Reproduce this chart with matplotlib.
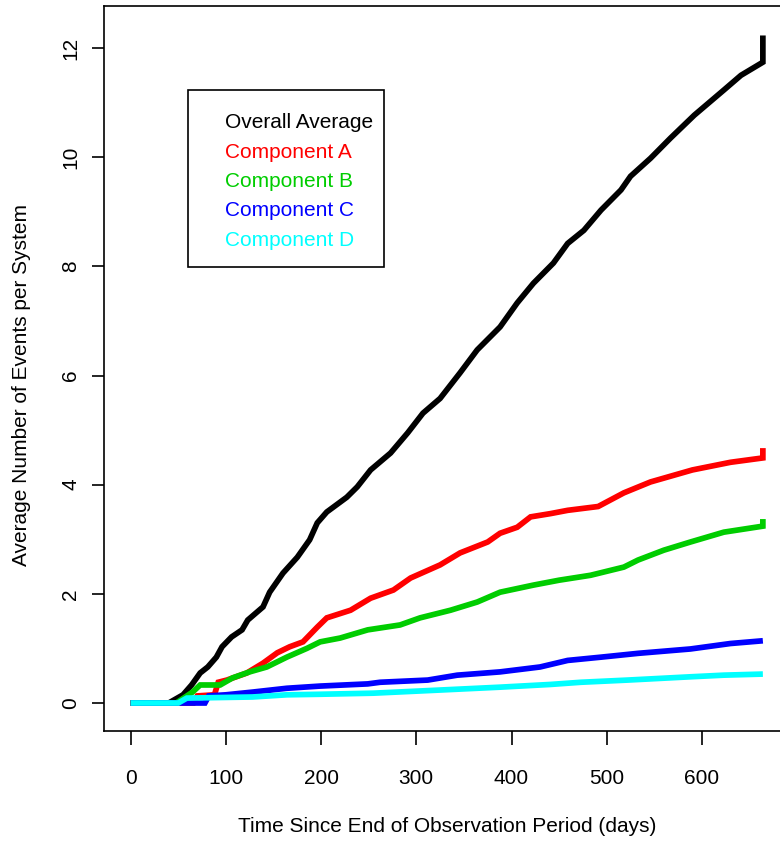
import matplotlib.pyplot as plt
from matplotlib.patches import Rectangle

plt.rcParams['font.family'] = ['Liberation Sans', 'DejaVu Sans']

# values (days, average events per system)
days_overall = [0, 40, 55, 64, 73, 81, 90, 96, 106, 117, 123, 139, 146, 160, 175, 188, 196,
                206, 227, 238, 252, 273, 291, 307, 325, 346, 364, 388, 406, 423, 444, 459,
                476, 494, 515, 525, 546, 567, 592, 623, 641, 664, 664]
overall = [0, 0, 0.15, 0.33, 0.55, 0.66, 0.84, 1.03, 1.21, 1.34, 1.52, 1.76, 2.03, 2.38, 2.67,
           2.99, 3.30, 3.50, 3.77, 3.96, 4.27, 4.58, 4.95, 5.31, 5.58, 6.05, 6.47, 6.89, 7.33,
           7.69, 8.06, 8.42, 8.66, 9.03, 9.40, 9.65, 9.98, 10.35, 10.77, 11.23, 11.50, 11.74, 12.23]

days_a = [0, 66, 70, 88, 92, 101, 122, 139, 154, 167, 181, 196, 206, 231, 252, 276, 294, 325,
          346, 375, 388, 406, 420, 441, 459, 491, 518, 546, 590, 630, 664, 664]
comp_a = [0, 0, 0.13, 0.15, 0.38, 0.42, 0.55, 0.73, 0.92, 1.03, 1.12, 1.39, 1.56, 1.70, 1.92,
          2.07, 2.29, 2.53, 2.75, 2.95, 3.11, 3.22, 3.41, 3.47, 3.53, 3.60, 3.85, 4.05, 4.27,
          4.41, 4.49, 4.67]

days_b = [0, 48, 65, 73, 94, 107, 125, 143, 164, 185, 199, 220, 249, 283, 304, 336, 364, 388,
          423, 450, 483, 518, 533, 560, 588, 623, 664, 664]
comp_b = [0, 0, 0.20, 0.33, 0.33, 0.46, 0.57, 0.66, 0.84, 1.00, 1.12, 1.19, 1.34, 1.43, 1.56,
          1.70, 1.85, 2.03, 2.16, 2.25, 2.34, 2.49, 2.62, 2.80, 2.95, 3.13, 3.24, 3.37]

days_c = [0, 78, 82, 100, 128, 164, 199, 249, 262, 312, 343, 388, 430, 459, 494, 533, 588,
          630, 664]
comp_c = [0, 0, 0.13, 0.15, 0.20, 0.27, 0.31, 0.35, 0.38, 0.42, 0.51, 0.57, 0.66, 0.78, 0.84,
          0.91, 0.99, 1.09, 1.14]

days_d = [0, 50, 59, 128, 164, 199, 255, 328, 388, 441, 473, 522, 588, 623, 664]
comp_d = [0, 0, 0.09, 0.11, 0.15, 0.16, 0.18, 0.24, 0.29, 0.34, 0.38, 0.42, 0.48, 0.51, 0.53]

labels = ['Overall Average', 'Component A', 'Component B', 'Component C', 'Component D']
colors = ['black', '#FF0000', '#00CD00', '#0000FF', '#00FFFF']

fig = plt.figure(figsize=(7.8, 8.55), dpi=100)
# plot box runs past the right edge, as in the cropped original
ax = fig.add_axes([104 / 780, 1 - 731 / 855, 682 / 780, 725 / 855])

series = [(days_overall, overall), (days_a, comp_a), (days_b, comp_b),
          (days_c, comp_c), (days_d, comp_d)]
for (x, y), c in zip(series, colors):
    ax.plot(x, y, color=c, lw=4.1, solid_capstyle='butt', solid_joinstyle='miter')

ax.set_xlim(-28, 688.3)
ax.set_ylim(-0.513, 12.77)
ax.set_xticks([0, 100, 200, 300, 400, 500, 600])
ax.set_yticks([0, 2, 4, 6, 8, 10, 12])
for s in ax.spines.values():
    s.set_linewidth(1.2)
ax.tick_params(axis='x', length=10, width=1.2, pad=17, labelsize=15)
ax.tick_params(axis='y', length=9, width=1.2, pad=8, labelsize=15)
for t in ax.get_yticklabels():
    t.set_rotation(90)
    t.set_va('center')

ax.set_xlabel('Time Since End of Observation Period (days)', fontsize=15)
ax.xaxis.label.set_va('center')
ax.xaxis.set_label_coords((447 - 104) / 682, (731 - 826) / 725)
ax.set_ylabel('Average Number of Events per System', fontsize=15)
ax.yaxis.label.set_va('center')
ax.yaxis.set_label_coords((22 - 104) / 682, (731 - 385) / 725)

# legend box drawn by hand, text only (like R legend without symbols)
fig.patches.append(Rectangle((188 / 780, 1 - 267 / 855), 196 / 780, 177 / 855,
                             transform=fig.transFigure, fill=False, lw=1.2,
                             edgecolor='black'))
for i, (lab, c) in enumerate(zip(labels, colors)):
    fig.text(225 / 780, 1 - (123 + 29.3 * i) / 855, lab, color=c, fontsize=15,
             ha='left', va='center')

fig.savefig('out.png', dpi=100)
